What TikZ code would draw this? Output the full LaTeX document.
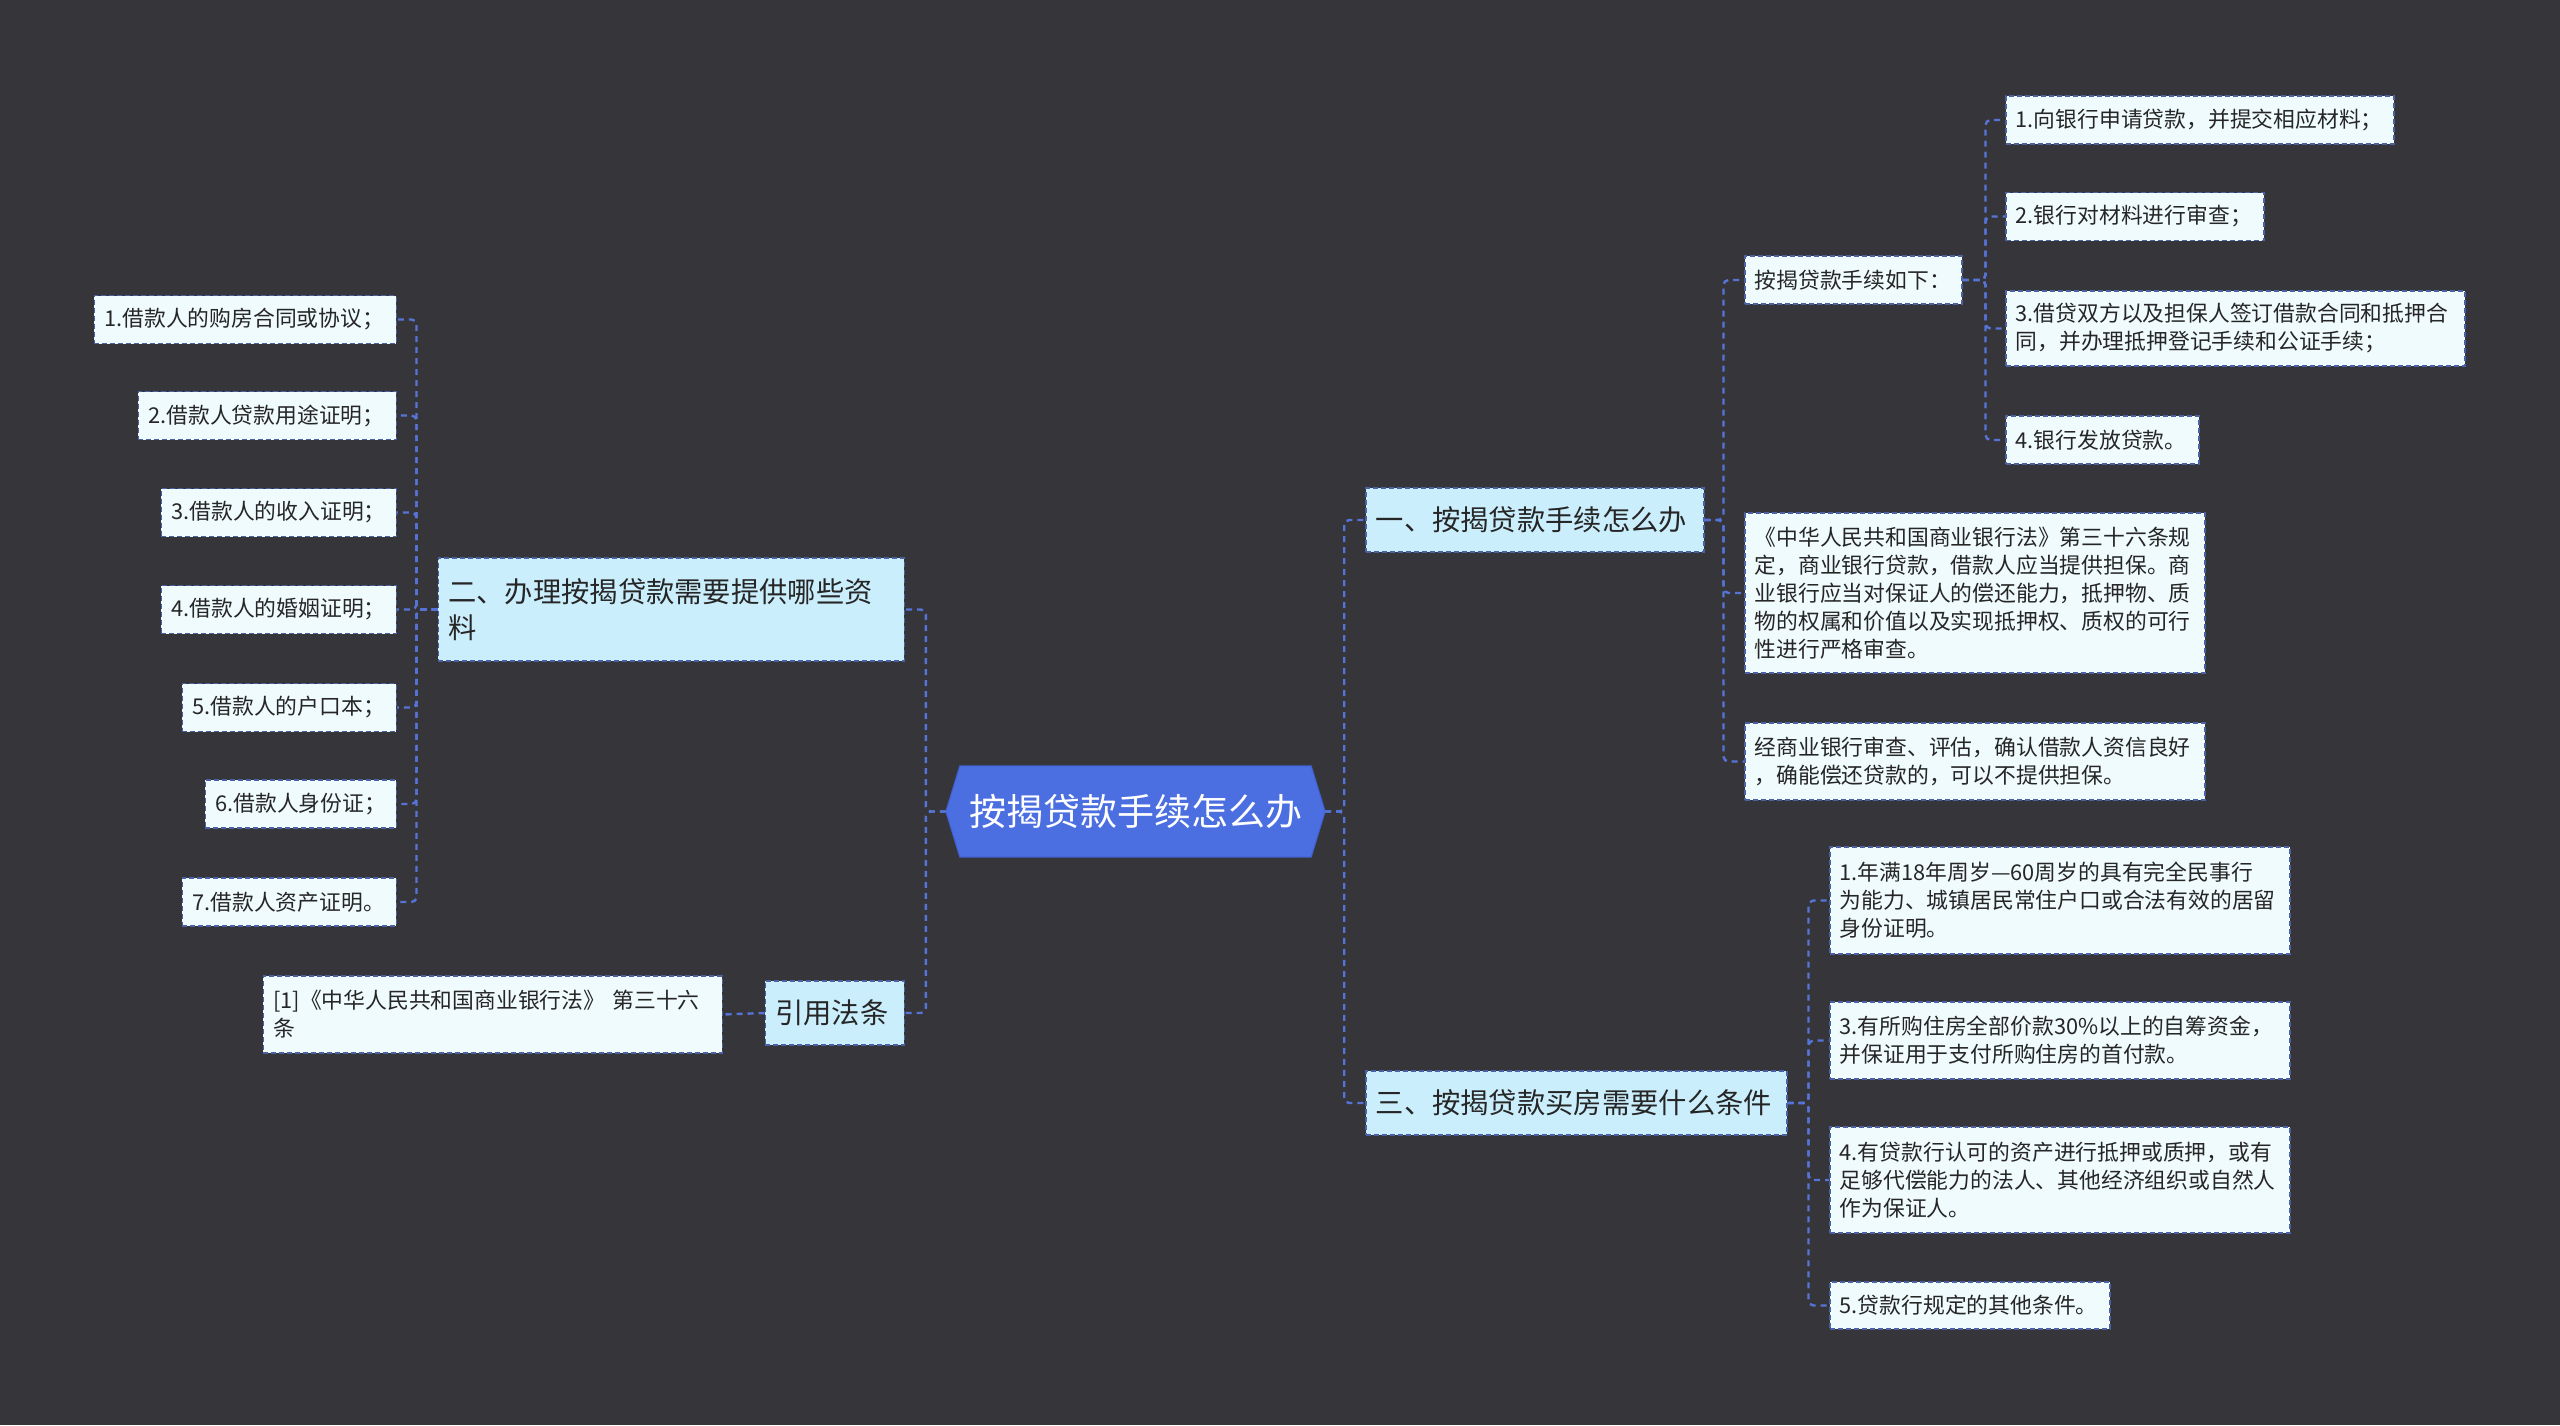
\documentclass[tikz,border=0pt]{standalone}
\usepackage{fontspec}
\newfontfamily\cjk{Noto Sans CJK SC}
\usetikzlibrary{calc,backgrounds}
\definecolor{bg}{HTML}{363539}
\definecolor{rootc}{HTML}{4B6EE0}
\definecolor{rootd}{HTML}{3F5FCC}
\definecolor{lvlf}{HTML}{CBEEFC}
\definecolor{leaff}{HTML}{F0FBFE}
\definecolor{bordc}{HTML}{4A61A6}
\definecolor{linec}{HTML}{5674D8}
\definecolor{txt}{HTML}{262626}
\tikzset{
  box/.style={draw=bordc, dash pattern=on 5pt off 3pt, line width=1.5pt, inner xsep=10pt, inner ysep=0pt, align=left, text=txt, font=\cjk\fontsize{21.8}{28}\selectfont},
  leaf/.style={box, fill=leaff},
  lvl/.style={box, fill=lvlf, font=\cjk\fontsize{28.3}{36}\selectfont},
  link/.style={draw=linec, line width=2.4pt, dash pattern=on 6pt off 5pt, rounded corners=5pt}
}
\begin{document}
\begin{tikzpicture}[x=1pt,y=-1pt]
\begin{pgfonlayer}{background}
\fill[bg] (0,0) rectangle (2560,1425);
\end{pgfonlayer}
\useasboundingbox (0,0) rectangle (2560,1425);

% root
\node[minimum width=379pt, minimum height=91pt, inner sep=0pt, text=white, font=\cjk\fontsize{37}{44}\selectfont] (root) at (1135.5,811.5) {按揭贷款手续怎么办};
\begin{pgfonlayer}{background}
\filldraw[fill=rootc, draw=rootd, line width=1pt] (root.west) -- ([xshift=14pt]root.north west) -- ([xshift=-14pt]root.north east) -- (root.east) -- ([xshift=-14pt]root.south east) -- ([xshift=14pt]root.south west) -- cycle;
\end{pgfonlayer}

% level 1
\node[lvl, minimum width=338pt, minimum height=64pt, text width=318pt, anchor=west] (n1) at (1365,520) {一、按揭贷款手续怎么办};
\node[lvl, minimum width=421pt, minimum height=64pt, text width=401pt, anchor=west] (n3) at (1365,1103) {三、按揭贷款买房需要什么条件};
\node[lvl, minimum width=466pt, minimum height=103pt, text width=446pt, anchor=east] (n2) at (905,609.5) {二、办理按揭贷款需要提供哪些资\\料};
\node[lvl, minimum width=139pt, minimum height=64pt, text width=119pt, anchor=east] (cite) at (905,1013) {引用法条};

% branch 1
\node[leaf, minimum width=217pt, minimum height=48pt, text width=197pt, anchor=west] (a0) at (1744,280) {按揭贷款手续如下：};
\node[leaf, minimum width=388pt, minimum height=48pt, text width=368pt, anchor=west] (a1) at (2005,120) {1.向银行申请贷款，并提交相应材料；};
\node[leaf, minimum width=258pt, minimum height=48pt, text width=238pt, anchor=west] (a2) at (2005,216.5) {2.银行对材料进行审查；};
\node[leaf, minimum width=459pt, minimum height=75pt, text width=439pt, anchor=west] (a3) at (2005,328.5) {3.借贷双方以及担保人签订借款合同和抵押合\\同，并办理抵押登记手续和公证手续；};
\node[leaf, minimum width=193pt, minimum height=48pt, text width=173pt, anchor=west] (a4) at (2005,440) {4.银行发放贷款。};
\node[leaf, minimum width=460pt, minimum height=160pt, text width=440pt, anchor=west] (b1) at (1744,593) {《中华人民共和国商业银行法》第三十六条规\\定，商业银行贷款，借款人应当提供担保。商\\业银行应当对保证人的偿还能力，抵押物、质\\物的权属和价值以及实现抵押权、质权的可行\\性进行严格审查。};
\node[leaf, minimum width=460pt, minimum height=77pt, text width=440pt, anchor=west] (b2) at (1744,761.5) {经商业银行审查、评估，确认借款人资信良好\\，确能偿还贷款的，可以不提供担保。};

% branch 3
\node[leaf, minimum width=460pt, minimum height=107pt, text width=440pt, anchor=west] (c1) at (1829,900.5) {1.年满18年周岁—60周岁的具有完全民事行\\为能力、城镇居民常住户口或合法有效的居留\\身份证明。};
\node[leaf, minimum width=460pt, minimum height=77pt, text width=440pt, anchor=west] (c3) at (1829,1040.5) {3.有所购住房全部价款30\%以上的自筹资金，\\并保证用于支付所购住房的首付款。};
\node[leaf, minimum width=460pt, minimum height=106pt, text width=440pt, anchor=west] (c4) at (1829,1180) {4.有贷款行认可的资产进行抵押或质押，或有\\足够代偿能力的法人、其他经济组织或自然人\\作为保证人。};
\node[leaf, minimum width=280pt, minimum height=47pt, text width=260pt, anchor=west] (c5) at (1829,1305.5) {5.贷款行规定的其他条件。};

% branch 2
\node[leaf, minimum width=302pt, minimum height=48pt, text width=282pt, anchor=east] (l1) at (397,319.5) {1.借款人的购房合同或协议；};
\node[leaf, minimum width=258pt, minimum height=48pt, text width=238pt, anchor=east] (l2) at (397,415.5) {2.借款人贷款用途证明；};
\node[leaf, minimum width=235pt, minimum height=48pt, text width=215pt, anchor=east] (l3) at (397,512.5) {3.借款人的收入证明；};
\node[leaf, minimum width=235pt, minimum height=48pt, text width=215pt, anchor=east] (l4) at (397,609.5) {4.借款人的婚姻证明；};
\node[leaf, minimum width=214pt, minimum height=48pt, text width=194pt, anchor=east] (l5) at (397,707.5) {5.借款人的户口本；};
\node[leaf, minimum width=191pt, minimum height=48pt, text width=171pt, anchor=east] (l6) at (397,804) {6.借款人身份证；};
\node[leaf, minimum width=214pt, minimum height=48pt, text width=194pt, anchor=east] (l7) at (397,902) {7.借款人资产证明。};

% citation
\node[leaf, minimum width=459pt, minimum height=77pt, text width=439pt, anchor=east] (r1) at (723,1014.5) {[1]《中华人民共和国商业银行法》 第三十六\\条};

% connectors
\foreach \c in {n1,n3} \draw[link] (root.east) -- ++(19,0) |- (\c.west);
\foreach \c in {n2,cite} \draw[link] (root.west) -- ++(-20,0) |- (\c.east);
\foreach \c in {a0,b1,b2} \draw[link] (n1.east) -- ++(19,0) |- (\c.west);
\foreach \c in {a1,a2,a3,a4} \draw[link] (a0.east) -- ++(23,0) |- (\c.west);
\foreach \c in {c1,c3,c4,c5} \draw[link] (n3.east) -- ++(21,0) |- (\c.west);
\foreach \c in {l1,l2,l3,l4,l5,l6,l7} \draw[link] (n2.west) -- ++(-21,0) |- (\c.east);
\draw[link] (cite.west) -- (r1.east);
\end{tikzpicture}
\end{document}
